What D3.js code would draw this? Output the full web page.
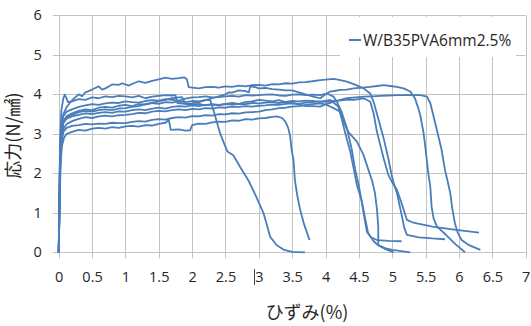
<!DOCTYPE html>
<html><head><meta charset="utf-8">
<script src="https://cdn.jsdelivr.net/npm/d3@7"></script>
<style>
body{margin:0;background:#fff;}
svg{display:block;}
</style></head>
<body>
<svg id="chart" width="531" height="326"></svg>
<script>
const xTicks = [0,0.5,1,1.5,2,2.5,3,3.5,4,4.5,5,5.5,6,6.5,7];
const xTickLabels = ["0","0.5","1","1.5","2","2.5","3","3.5","4","4.5","5","5.5","6","6.5","7"];
const yTicks = [0,1,2,3,4,5,6];
const yTickLabels = ["0","1","2","3","4","5","6"];
const seriesName = "W/B35PVA6mm2.5%";
const xTitle = "ひずみ(%)";
const yTitle = "応力(N/㎟)";

const curve1 = [[0,0],[0.01,0.8],[0.02,1.6],[0.03,2.3],[0.05,2.7],[0.08,2.9],[0.12,3.0],[0.2,3.05],[0.3,3.1],[0.4,3.08],[0.5,3.13],[0.6,3.15],[0.7,3.13],[0.8,3.17],[0.9,3.15],[1.0,3.19],[1.1,3.2],[1.2,3.18],[1.3,3.22],[1.4,3.21],[1.5,3.25],[1.6,3.28],[1.65,3.35],[1.68,3.1],[1.8,3.11],[1.9,3.08],[1.97,3.09],[2.0,3.22],[2.1,3.26],[2.2,3.25],[2.3,3.29],[2.4,3.31],[2.5,3.3],[2.6,3.34],[2.7,3.33],[2.8,3.37],[2.9,3.36],[3.0,3.39],[3.1,3.4],[3.2,3.43],[3.27,3.44],[3.35,3.4],[3.4,3.3],[3.44,3.15],[3.47,2.93],[3.49,2.6],[3.52,2.34],[3.54,1.83],[3.58,1.4],[3.62,1.07],[3.68,0.7],[3.76,0.31]];
const curve2 = [[0,0],[0.01,1.0],[0.02,2.0],[0.03,2.7],[0.05,3.1],[0.08,3.35],[0.12,3.45],[0.2,3.52],[0.3,3.58],[0.4,3.62],[0.5,3.6],[0.6,3.66],[0.7,3.68],[0.8,3.66],[0.9,3.71],[1.0,3.73],[1.1,3.7],[1.2,3.75],[1.3,3.74],[1.4,3.78],[1.5,3.76],[1.6,3.8],[1.7,3.79],[1.8,3.82],[1.9,3.8],[2.0,3.83],[2.1,3.82],[2.2,3.85],[2.27,3.86],[2.32,3.6],[2.37,3.3],[2.42,3.01],[2.48,2.75],[2.53,2.55],[2.62,2.45],[2.72,2.16],[2.84,1.83],[2.95,1.45],[3.07,0.99],[3.12,0.7],[3.17,0.39],[3.27,0.18],[3.38,0.06],[3.5,0.01],[3.69,0]];
const curve3 = [[0,0],[0.01,1.2],[0.02,2.4],[0.04,3.2],[0.07,3.5],[0.12,3.68],[0.2,3.85],[0.3,4.0],[0.35,3.95],[0.4,4.05],[0.5,4.12],[0.6,4.2],[0.65,4.12],[0.7,4.15],[0.8,4.25],[0.9,4.24],[0.95,4.28],[1.05,4.22],[1.1,4.26],[1.2,4.33],[1.3,4.29],[1.4,4.34],[1.5,4.38],[1.6,4.42],[1.7,4.39],[1.8,4.41],[1.88,4.43],[1.92,4.38],[1.95,4.18],[2.0,4.17],[2.1,4.15],[2.2,4.18],[2.3,4.19],[2.4,4.17],[2.5,4.2],[2.6,4.19],[2.7,4.22],[2.8,4.2],[2.9,4.23],[3.0,4.24],[3.1,4.22],[3.2,4.26],[3.3,4.25],[3.4,4.28],[3.5,4.27],[3.6,4.3],[3.7,4.31],[3.8,4.33],[3.92,4.36],[4.0,4.37],[4.12,4.39],[4.22,4.36],[4.32,4.32],[4.45,4.24],[4.57,4.15],[4.67,4.02],[4.72,3.81],[4.79,3.39],[4.87,2.89],[4.94,2.38],[4.99,1.96],[5.03,1.7],[5.07,1.5],[5.14,0.95],[5.18,0.62],[5.22,0.44],[5.4,0.38],[5.6,0.35],[5.79,0.33]];
const curve4 = [[0,0],[0.01,1.5],[0.02,2.8],[0.04,3.6],[0.07,3.9],[0.09,3.99],[0.11,3.92],[0.14,3.8],[0.2,3.82],[0.3,3.88],[0.4,3.86],[0.5,3.92],[0.6,3.9],[0.7,3.95],[0.8,3.93],[0.9,3.96],[1.0,3.95],[1.1,3.92],[1.2,3.96],[1.3,3.9],[1.4,3.94],[1.5,3.96],[1.6,3.98],[1.7,3.97],[1.75,3.98],[1.78,3.78],[1.9,3.76],[2.0,3.74],[2.1,3.76],[2.2,3.72],[2.3,3.75],[2.4,3.73],[2.5,3.76],[2.6,3.78],[2.7,3.76],[2.8,3.8],[2.9,3.82],[3.0,3.86],[3.1,3.84],[3.2,3.82],[3.3,3.85],[3.4,3.8],[3.5,3.78],[3.6,3.74],[3.7,3.7],[3.8,3.7],[3.92,3.69],[4.02,3.76],[4.12,3.81],[4.22,3.86],[4.32,3.9],[4.45,3.92],[4.57,3.94],[4.7,3.95],[4.82,3.96],[4.95,3.97],[5.07,3.98],[5.2,3.98],[5.32,3.98],[5.42,3.98],[5.52,3.94],[5.57,3.78],[5.62,3.43],[5.67,3.09],[5.74,2.59],[5.79,2.08],[5.83,1.8],[5.87,1.49],[5.9,1.1],[5.94,0.73],[5.98,0.5],[6.04,0.31],[6.15,0.18],[6.32,0.06]];
const curve5 = [[0,0],[0.01,1.0],[0.02,2.2],[0.04,3.0],[0.07,3.3],[0.12,3.42],[0.2,3.48],[0.3,3.55],[0.4,3.58],[0.5,3.56],[0.6,3.6],[0.7,3.62],[0.8,3.6],[0.9,3.64],[1.0,3.65],[1.1,3.68],[1.2,3.7],[1.3,3.75],[1.4,3.78],[1.5,3.82],[1.6,3.86],[1.7,3.9],[1.8,3.92],[1.85,3.93],[1.9,3.75],[2.0,3.77],[2.1,3.8],[2.2,3.85],[2.3,3.9],[2.4,3.95],[2.5,4.0],[2.55,4.05],[2.6,4.04],[2.7,4.1],[2.8,4.08],[2.85,4.05],[2.87,4.2],[2.95,4.18],[3.0,4.15],[3.1,4.16],[3.2,4.13],[3.3,4.12],[3.4,4.1],[3.5,4.1],[3.6,4.05],[3.7,4.0],[3.8,3.95],[3.92,3.9],[4.0,4.0],[4.07,4.07],[4.15,4.09],[4.22,4.11],[4.32,4.12],[4.42,4.15],[4.55,4.17],[4.67,4.19],[4.77,4.21],[4.87,4.23],[4.97,4.21],[5.07,4.19],[5.17,4.15],[5.27,4.07],[5.34,3.9],[5.39,3.65],[5.42,3.47],[5.47,3.01],[5.5,2.6],[5.54,2.0],[5.57,1.66],[5.59,1.15],[5.62,0.85],[5.67,0.65],[5.8,0.45],[5.95,0.2],[6.09,0]];
const curve6 = [[0,0],[0.01,0.9],[0.02,2.0],[0.04,2.8],[0.07,3.12],[0.12,3.25],[0.2,3.32],[0.3,3.38],[0.4,3.42],[0.5,3.4],[0.6,3.44],[0.7,3.46],[0.8,3.44],[0.9,3.47],[1.0,3.48],[1.1,3.5],[1.2,3.53],[1.3,3.52],[1.4,3.56],[1.5,3.58],[1.6,3.57],[1.7,3.6],[1.8,3.62],[1.9,3.6],[2.0,3.63],[2.1,3.62],[2.2,3.65],[2.3,3.64],[2.4,3.67],[2.5,3.66],[2.6,3.69],[2.7,3.68],[2.8,3.7],[2.9,3.69],[3.0,3.71],[3.1,3.72],[3.2,3.74],[3.3,3.73],[3.4,3.76],[3.5,3.77],[3.6,3.76],[3.7,3.79],[3.8,3.8],[3.9,3.82],[4.0,3.81],[4.1,3.83],[4.2,3.84],[4.3,3.86],[4.42,3.86],[4.5,3.88],[4.57,3.9],[4.67,3.81],[4.72,3.52],[4.77,3.05],[4.82,2.72],[4.87,2.38],[4.94,1.96],[4.99,1.8],[5.07,1.58],[5.14,1.24],[5.22,0.82],[5.3,0.76],[5.37,0.73],[5.6,0.65],[5.9,0.58],[6.3,0.5]];
const curve7 = [[0,0],[0.01,1.3],[0.02,2.5],[0.04,3.2],[0.07,3.45],[0.12,3.56],[0.2,3.62],[0.3,3.68],[0.4,3.72],[0.5,3.75],[0.6,3.73],[0.7,3.77],[0.8,3.79],[0.9,3.78],[1.0,3.82],[1.1,3.8],[1.2,3.79],[1.3,3.83],[1.4,3.85],[1.5,3.84],[1.6,3.88],[1.7,3.86],[1.8,3.84],[1.9,3.89],[2.0,3.92],[2.1,3.93],[2.2,3.95],[2.3,3.92],[2.4,3.93],[2.5,3.95],[2.6,3.96],[2.7,3.94],[2.8,3.98],[2.9,3.97],[3.0,3.98],[3.1,3.99],[3.2,4.0],[3.3,3.97],[3.4,3.96],[3.5,3.99],[3.6,4.0],[3.7,3.98],[3.8,3.99],[3.92,3.98],[4.02,4.02],[4.12,3.94],[4.17,3.81],[4.24,3.56],[4.32,3.14],[4.39,2.63],[4.44,2.13],[4.49,1.75],[4.52,1.49],[4.57,1.0],[4.62,0.52],[4.68,0.38],[4.77,0.31],[4.95,0.29],[5.14,0.28]];
const curve8 = [[0,0],[0.01,1.1],[0.02,2.3],[0.04,3.0],[0.07,3.28],[0.12,3.38],[0.2,3.44],[0.3,3.48],[0.4,3.52],[0.5,3.5],[0.6,3.53],[0.7,3.55],[0.8,3.53],[0.9,3.57],[1.0,3.56],[1.1,3.6],[1.2,3.62],[1.3,3.6],[1.4,3.64],[1.5,3.66],[1.6,3.64],[1.7,3.68],[1.8,3.7],[1.9,3.69],[2.0,3.72],[2.1,3.7],[2.2,3.73],[2.3,3.74],[2.4,3.72],[2.5,3.75],[2.6,3.74],[2.7,3.76],[2.8,3.75],[2.9,3.78],[3.0,3.77],[3.1,3.79],[3.2,3.8],[3.3,3.78],[3.4,3.81],[3.5,3.83],[3.6,3.82],[3.7,3.84],[3.8,3.83],[3.92,3.81],[4.07,3.86],[4.19,3.69],[4.24,3.39],[4.29,3.05],[4.37,2.55],[4.42,2.13],[4.47,1.7],[4.54,1.32],[4.6,0.8],[4.64,0.48],[4.72,0.28],[4.79,0.18],[4.9,0.08],[5.02,0]];
const curve9 = [[0,0],[0.01,1.0],[0.02,2.1],[0.04,2.8],[0.07,3.05],[0.12,3.15],[0.2,3.2],[0.3,3.22],[0.4,3.25],[0.5,3.24],[0.6,3.26],[0.7,3.25],[0.8,3.28],[0.9,3.27],[1.0,3.27],[1.1,3.3],[1.2,3.32],[1.3,3.31],[1.4,3.35],[1.5,3.37],[1.6,3.36],[1.7,3.4],[1.8,3.42],[1.9,3.41],[2.0,3.45],[2.1,3.44],[2.2,3.47],[2.3,3.46],[2.4,3.5],[2.5,3.49],[2.6,3.52],[2.7,3.51],[2.8,3.54],[2.9,3.55],[3.0,3.56],[3.1,3.6],[3.2,3.62],[3.3,3.65],[3.4,3.66],[3.5,3.69],[3.6,3.7],[3.7,3.73],[3.8,3.75],[3.92,3.77],[4.02,3.73],[4.12,3.65],[4.22,3.56],[4.27,3.31],[4.34,3.05],[4.47,2.8],[4.57,2.46],[4.64,2.1],[4.7,1.8],[4.74,1.5],[4.77,1.1],[4.79,0.65],[4.79,0.18],[4.9,0.1],[5.0,0.06],[5.27,0]];
const curves = [curve1,curve2,curve3,curve4,curve5,curve6,curve7,curve8,curve9];

const svg = d3.select("#chart");
const x = d3.scaleLinear().domain([0,7]).range([58.7,525.7]);
const y = d3.scaleLinear().domain([0,6]).range([252.3,15.3]);
const lineColor = "#4a7ebb";
const gridColor = "#c3c3c3";
const font = "'Open Sans', 'Noto Sans', sans-serif";

// grid lines
svg.append("g").selectAll("line").data(yTicks).join("line")
  .attr("x1", x(0)-6).attr("x2", x(7))
  .attr("y1", d=>Math.round(y(d))+0.5).attr("y2", d=>Math.round(y(d))+0.5)
  .attr("stroke", gridColor).attr("stroke-width",1);
svg.append("g").selectAll("line").data(xTicks).join("line")
  .attr("x1", d=>Math.round(x(d))+0.5).attr("x2", d=>Math.round(x(d))+0.5)
  .attr("y1", y(6)).attr("y2", y(0)+6)
  .attr("stroke", gridColor).attr("stroke-width",1);

// axes labels via d3 axes
const xAxis = d3.axisBottom(x).tickValues(xTicks).tickFormat((d,i)=>xTickLabels[i]).tickSize(0).tickPadding(19);
const gx = svg.append("g").attr("transform",`translate(0,${y(0)})`).call(xAxis);
gx.select(".domain").remove();
gx.selectAll("text").attr("font-family",font).attr("font-size","14.5px").attr("fill","#262626");

const yAxis = d3.axisLeft(y).tickValues(yTicks).tickFormat((d,i)=>yTickLabels[i]).tickSize(0).tickPadding(17);
const gy = svg.append("g").attr("transform",`translate(${x(0)},0)`).call(yAxis);
gy.select(".domain").remove();
gy.selectAll("text").attr("font-family",font).attr("font-size","14.5px").attr("fill","#262626");

// legend background
const lg = svg.append("g");
lg.append("rect").attr("x",340).attr("y",17).attr("width",176).attr("height",40).attr("fill","#fff");

// curves
const line = d3.line().x(d=>x(d[0])).y(d=>y(d[1]));
svg.append("g").selectAll("path").data(curves).join("path")
  .attr("d", line).attr("fill","none").attr("stroke",lineColor)
  .attr("stroke-width",1.8).attr("stroke-linejoin","round");

// legend
lg.raise();
lg.append("line").attr("x1",349).attr("x2",361).attr("y1",40).attr("y2",40)
  .attr("stroke",lineColor).attr("stroke-width",2);
lg.append("text").attr("x",363).attr("y",45.5).text(seriesName)
  .attr("font-family",font).attr("font-size","15.5px").attr("fill","#262626");

// axis titles
svg.append("text").attr("x",307).attr("y",319).attr("text-anchor","middle")
  .attr("font-family","'Noto Sans CJK JP', sans-serif").attr("font-size","18px").attr("fill","#262626").text(xTitle);
svg.append("text").attr("transform","translate(20,135.5) rotate(-90)").attr("text-anchor","middle")
  .attr("font-family","'Noto Sans CJK JP', sans-serif").attr("font-size","18px").attr("fill","#262626").text(yTitle);

// cursor mark seen near the "3" label
svg.append("line").attr("x1",254.5).attr("x2",254.5).attr("y1",269).attr("y2",285)
  .attr("stroke","#444").attr("stroke-width",1);
</script>
</body></html>
